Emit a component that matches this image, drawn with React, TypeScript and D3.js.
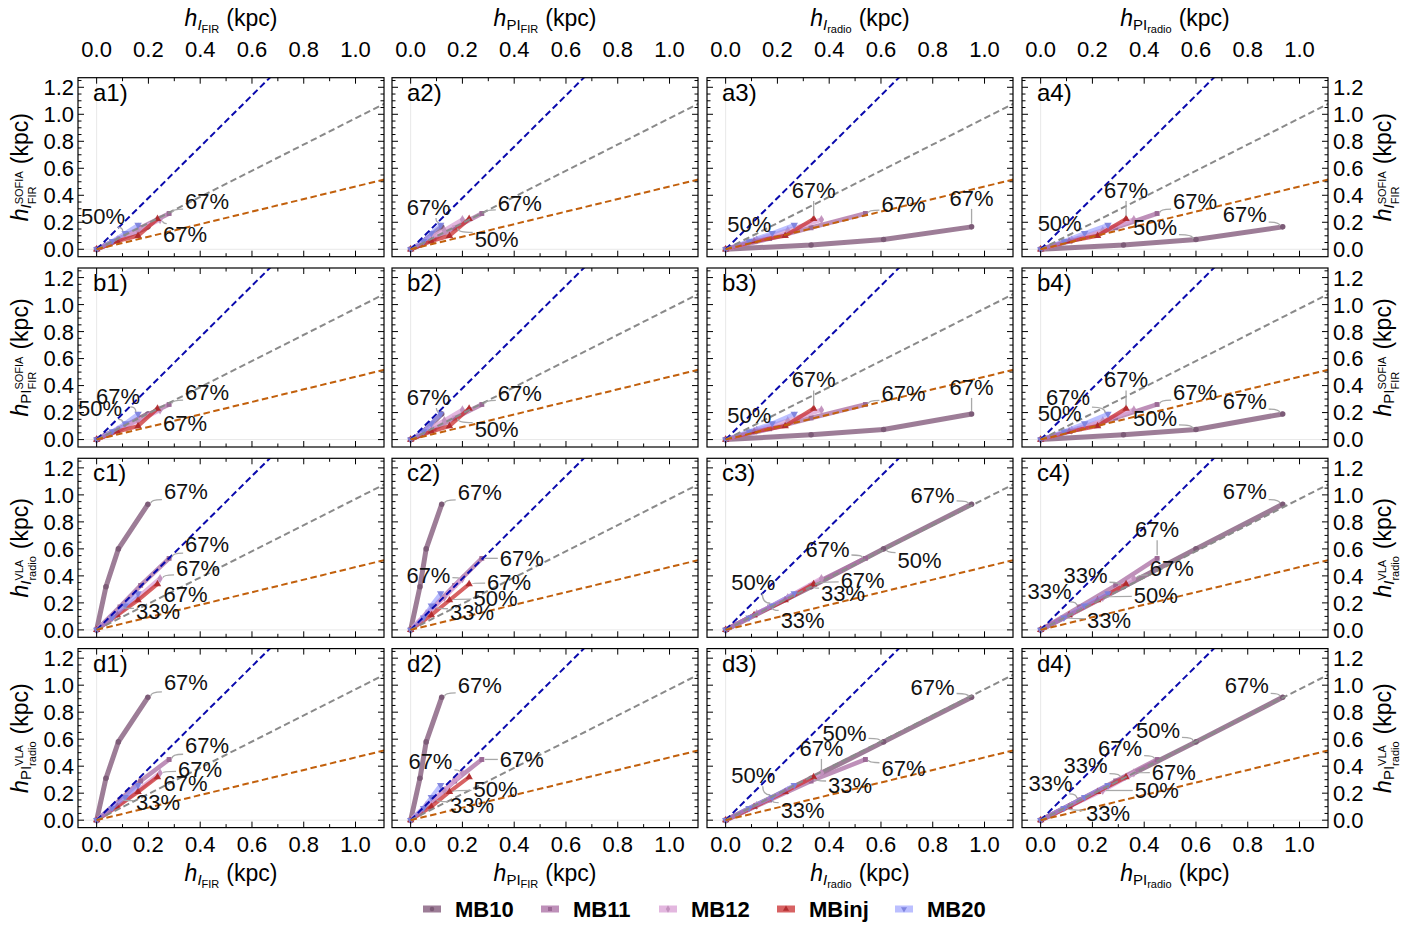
import React from 'react'
import * as d3 from 'd3'

// series and percentile steps (33%, 50%, 67%)
const seriesNames = ['MB10', 'MB11', 'MB12', 'MBinj', 'MB20']
const percentLabels = ['33%', '50%', '67%']

// x quantities (one per column), rows = series, values at 33/50/67%
const hI_FIR = [
  [0.036, 0.084, 0.198],
  [0.09, 0.17, 0.28],
  [0.08, 0.16, 0.245],
  [0.08, 0.16, 0.235],
  [0.06, 0.11, 0.16],
]
const hPI_FIR = [
  [0.036, 0.06, 0.12],
  [0.09, 0.17, 0.275],
  [0.06, 0.13, 0.2],
  [0.08, 0.15, 0.226],
  [0.05, 0.08, 0.116],
]
const hI_radio = [
  [0.33, 0.61, 0.95],
  [0.17, 0.33, 0.54],
  [0.12, 0.24, 0.37],
  [0.11, 0.23, 0.34],
  [0.09, 0.18, 0.265],
]
const hPI_radio = [
  [0.32, 0.6, 0.935],
  [0.15, 0.29, 0.45],
  [0.12, 0.24, 0.36],
  [0.11, 0.22, 0.33],
  [0.09, 0.17, 0.26],
]

// y quantities (one per row)
const hI_FIR_SOFIA = [
  [0.032, 0.072, 0.166],
  [0.08, 0.16, 0.265],
  [0.07, 0.14, 0.22],
  [0.06, 0.1, 0.225],
  [0.06, 0.12, 0.18],
]
const hPI_FIR_SOFIA = [
  [0.035, 0.075, 0.19],
  [0.08, 0.16, 0.26],
  [0.07, 0.14, 0.22],
  [0.06, 0.1, 0.23],
  [0.06, 0.12, 0.19],
]
const hI_radio_VLA = [
  [0.32, 0.6, 0.93],
  [0.17, 0.33, 0.53],
  [0.12, 0.24, 0.38],
  [0.11, 0.22, 0.34],
  [0.09, 0.18, 0.27],
]
const hPI_radio_VLA = [
  [0.31, 0.58, 0.91],
  [0.15, 0.29, 0.45],
  [0.11, 0.22, 0.35],
  [0.1, 0.21, 0.32],
  [0.09, 0.17, 0.26],
]

// dashed reference lines y = slope * x
const refSlopes = [1.9, 0.97, 0.465]

const xTicks = [0, 0.2, 0.4, 0.6, 0.8, 1.0]
const yTicks = [0, 0.2, 0.4, 0.6, 0.8, 1.0, 1.2]

const xQuantities = [hI_FIR, hPI_FIR, hI_radio, hPI_radio]
const yQuantities = [hI_FIR_SOFIA, hPI_FIR_SOFIA, hI_radio_VLA, hPI_radio_VLA]
const rowLetters = ['a', 'b', 'c', 'd']

// callouts: [series, step, label dx, label dy]
const callouts: Record<string, number[][]> = {
  a1: [[4, 1, -22, -17], [1, 2, 38, -12], [2, 2, 25, 15]],
  a2: [[4, 2, -12, -18], [1, 2, 38, -10], [1, 1, 42, 11]],
  a3: [[4, 1, -23, -9], [3, 2, 0, -29], [1, 2, 38, -9], [0, 2, 0, -29]],
  a4: [[4, 1, -25, -10], [3, 2, 0, -29], [1, 2, 38, -12], [0, 1, -41, -12], [0, 2, -38, -13]],
  b1: [[4, 2, -20, -18], [4, 1, -25, -15], [1, 2, 38, -12], [2, 2, 25, 13]],
  b2: [[4, 2, -12, -17], [1, 2, 38, -11], [1, 1, 42, 11]],
  b3: [[4, 1, -23, -8], [3, 2, 0, -29], [1, 2, 38, -11], [0, 2, 0, -27]],
  b4: [[4, 2, -40, -17], [4, 1, -25, -10], [3, 2, 0, -29], [1, 2, 38, -12], [0, 1, -41, -11], [0, 2, -38, -13]],
  c1: [[0, 2, 38, -13], [1, 2, 38, -14], [2, 2, 38, -10], [3, 2, 28, 10], [1, 0, 38, 4]],
  c2: [[0, 2, 38, -12], [2, 2, -34, -3], [1, 2, 40, 0], [3, 2, 40, -2], [3, 1, 46, -2], [1, 0, 38, 5]],
  c3: [[0, 2, -39, -9], [1, 2, -38, -9], [0, 1, 36, 11], [4, 1, -19, -23], [3, 2, 49, -4], [0, 0, 32, 6], [1, 0, 33, 13]],
  c4: [[0, 2, -38, -13], [1, 2, 0, -29], [0, 0, -38, -12], [2, 2, 38, -10], [1, 0, -30, -16], [2, 1, 53, -2], [4, 0, 45, 2]],
  d1: [[0, 2, 38, -15], [1, 2, 38, -14], [2, 2, 40, -4], [3, 2, 28, 6], [1, 0, 38, 2]],
  d2: [[0, 2, 38, -12], [2, 2, -32, -12], [1, 2, 40, 0], [3, 1, 46, -3], [1, 0, 38, 5]],
  d3: [[0, 2, -39, -10], [0, 1, -39, -9], [2, 2, 0, -25], [1, 2, 38, 9], [4, 1, -19, -22], [0, 0, 39, 7], [1, 0, 33, 10]],
  d4: [[0, 2, -36, -12], [0, 1, -38, -12], [1, 2, -37, -11], [0, 0, -38, -13], [2, 2, 40, -1], [1, 0, -29, -17], [2, 1, 54, 0], [4, 0, 44, 5]],
}

// styles
const seriesColors = ['#8c6685', '#ae74a7', '#dca5d7', '#c92d2f', '#8d94ff']
const seriesOpacity = [0.85, 0.8, 0.8, 0.75, 0.6]
const seriesWidth = [5, 4.5, 4.5, 4, 4]
const seriesSymbols = [d3.symbolCircle, d3.symbolSquare, d3.symbolDiamond, d3.symbolTriangle, d3.symbolTriangle]
const refColors = ['#0a0aad', '#8a8a8a', '#c2600c']

const FONT = '"Liberation Sans", Arial, Helvetica, sans-serif'
const FS = 22

const colLeft = [78, 392, 707, 1022]
const rowTop = [77.7, 268, 458.3, 648.6]
const PW = 306
const PH = 179
const xDomain = [-0.072, 1.11]
const yDomain = [-0.055, 1.271]

const xTitleSpecs = [
  { sub1: 'I', italic: true, sub2: 'FIR' },
  { sub1: 'PI', italic: false, sub2: 'FIR' },
  { sub1: 'I', italic: true, sub2: 'radio' },
  { sub1: 'PI', italic: false, sub2: 'radio' },
]
const yTitleSpecs = [
  { sub1: 'I', italic: true, sub2: 'FIR', sup: 'SOFIA' },
  { sub1: 'PI', italic: false, sub2: 'FIR', sup: 'SOFIA' },
  { sub1: 'I', italic: true, sub2: 'radio', sup: 'VLA' },
  { sub1: 'PI', italic: false, sub2: 'radio', sup: 'VLA' },
]

const charW: Record<string, number> = {
  S: 0.667, O: 0.778, F: 0.611, I: 0.278, A: 0.667, R: 0.722, V: 0.667, L: 0.556,
  r: 0.333, a: 0.556, d: 0.556, i: 0.222, o: 0.556,
}
const estW = (s: string, fs: number) => s.split('').reduce((t, c) => t + (charW[c] || 0.56) * fs, 0)

function AxisTitle({ x, y, rotate, spec }: any) {
  const small = 11
  if (spec.sup) {
    const supW = estW(spec.sup, small)
    const subW = estW(spec.sub2, small)
    return (
      <text transform={`translate(${x},${y}) rotate(${rotate})`} textAnchor="middle" fontSize={FS + 1} fontFamily={FONT}>
        <tspan fontStyle="italic">h</tspan>
        <tspan fontSize={15} fontStyle={spec.italic ? 'italic' : 'normal'} dy={3}>{spec.sub1}</tspan>
        <tspan fontSize={small} dy={-8}>{spec.sup}</tspan>
        <tspan fontSize={small} dx={-supW} dy={13}>{spec.sub2}</tspan>
        <tspan dx={Math.max(0, supW - subW) + 7} dy={-8}>(kpc)</tspan>
      </text>
    )
  }
  return (
    <text transform={`translate(${x},${y}) rotate(${rotate})`} textAnchor="middle" fontSize={FS + 1} fontFamily={FONT}>
      <tspan fontStyle="italic">h</tspan>
      <tspan fontSize={15} fontStyle={spec.italic ? 'italic' : 'normal'} dy={4}>{spec.sub1}</tspan>
      <tspan fontSize={small} dy={3}>{spec.sub2}</tspan>
      <tspan dx={7} dy={-7}>(kpc)</tspan>
    </text>
  )
}

function Marker({ s, x, y, size = 24 }: any) {
  const path = d3.symbol().type(seriesSymbols[s]).size(size)()
  const rot = s === 4 ? 180 : 0
  const fill = d3.color(seriesColors[s])!.darker(0.4).formatHex()
  return <path d={path!} transform={`translate(${x},${y}) rotate(${rot})`} fill={fill} opacity={0.9} />
}

function Panel({ r, c }: { r: number; c: number }) {
  const L = colLeft[c]
  const T = rowTop[r]
  const x = d3.scaleLinear().domain(xDomain).range([L, L + PW])
  const y = d3.scaleLinear().domain(yDomain).range([T + PH, T])
  const xq = xQuantities[c]
  const yq = yQuantities[r]
  const key = `${rowLetters[r]}${c + 1}`
  const clipId = `clip-${key}`
  const line = d3.line<[number, number]>().x(d => x(d[0])).y(d => y(d[1]))

  const xMinor = d3.range(0, 11).map(i => i * 0.1).filter(v => Math.abs((v * 10) % 2) > 0.5)
  const yMinor = d3.range(0, 26).map(i => i * 0.05).filter(v => Math.round(v * 100) % 20 !== 0)

  const labels = (callouts[key] || []).map(([s, i, dx, dy], k) => {
    const px = x(xq[s][i])
    const py = y(yq[s][i])
    const cx = px + dx
    const cy = py + dy
    const vx = px - cx
    const vy = py - cy
    const hw = 24
    const hh = 11
    const t = Math.min(vx !== 0 ? hw / Math.abs(vx) : Infinity, vy !== 0 ? hh / Math.abs(vy) : Infinity)
    const ax = cx + vx * t
    const ay = cy + vy * t
    const len = Math.hypot(ax - px, ay - py)
    let leader = null
    if (len > 5 && t < 1) {
      const sx = px + ((ax - px) / len) * 3
      const sy = py + ((ay - py) / len) * 3
      const ctrl = Math.abs(dx) > Math.abs(dy) ? [sx, ay] : [ax, sy]
      leader = <path d={`M${sx},${sy} Q${ctrl[0]},${ctrl[1]} ${ax},${ay}`} fill="none" stroke="#a8a8a8" strokeWidth={1.3} />
    }
    return (
      <g key={k}>
        {leader}
        <text x={cx} y={cy} dy="0.36em" textAnchor="middle" fontSize={FS} fontFamily={FONT} fill="#111">{percentLabels[i]}</text>
      </g>
    )
  })

  return (
    <g>
      <clipPath id={clipId}>
        <rect x={L} y={T} width={PW} height={PH} />
      </clipPath>
      <g clipPath={`url(#${clipId})`}>
        <line x1={x(0)} x2={x(0)} y1={T} y2={T + PH} stroke="#e8e8e8" />
        <line x1={L} x2={L + PW} y1={y(0)} y2={y(0)} stroke="#e8e8e8" />
        {seriesNames.map((name, s) => {
          const pts: [number, number][] = [[0, 0], ...xq[s].map((v, i) => [v, yq[s][i]] as [number, number])]
          return (
            <g key={name}>
              <path d={line(pts)!} fill="none" stroke={seriesColors[s]} strokeOpacity={seriesOpacity[s]} strokeWidth={seriesWidth[s]} strokeLinejoin="round" strokeLinecap="round" />
              {pts.map((p, i) => <Marker key={i} s={s} x={x(p[0])} y={y(p[1])} />)}
            </g>
          )
        })}
        {refSlopes.map((m, k) => (
          <line key={k} x1={x(0)} y1={y(0)} x2={x(1.2)} y2={y(1.2 * m)} stroke={refColors[k]} strokeWidth={2} strokeDasharray="6.5,3.5" />
        ))}
      </g>
      {labels}
      <rect x={L} y={T} width={PW} height={PH} fill="none" stroke="#000" strokeWidth={1.2} />
      {xTicks.map(v => (
        <g key={`xt${v}`}>
          <line x1={x(v)} x2={x(v)} y1={T + PH} y2={T + PH - 6} stroke="#000" />
          <line x1={x(v)} x2={x(v)} y1={T} y2={T + 6} stroke="#000" />
        </g>
      ))}
      {xMinor.map(v => (
        <g key={`xm${v}`}>
          <line x1={x(v)} x2={x(v)} y1={T + PH} y2={T + PH - 3.5} stroke="#000" />
          <line x1={x(v)} x2={x(v)} y1={T} y2={T + 3.5} stroke="#000" />
        </g>
      ))}
      {yTicks.map(v => (
        <g key={`yt${v}`}>
          <line x1={L} x2={L + 6} y1={y(v)} y2={y(v)} stroke="#000" />
          <line x1={L + PW} x2={L + PW - 6} y1={y(v)} y2={y(v)} stroke="#000" />
        </g>
      ))}
      {yMinor.map(v => (
        <g key={`ym${v}`}>
          <line x1={L} x2={L + 3.5} y1={y(v)} y2={y(v)} stroke="#000" />
          <line x1={L + PW} x2={L + PW - 3.5} y1={y(v)} y2={y(v)} stroke="#000" />
        </g>
      ))}
      {r === 0 && xTicks.map(v => (
        <text key={`xl${v}`} x={x(v)} y={T - 21} textAnchor="middle" fontSize={FS} fontFamily={FONT}>{d3.format('.1f')(v)}</text>
      ))}
      {r === 3 && xTicks.map(v => (
        <text key={`xb${v}`} x={x(v)} y={T + PH + 24} textAnchor="middle" fontSize={FS} fontFamily={FONT}>{d3.format('.1f')(v)}</text>
      ))}
      {c === 0 && yTicks.map(v => (
        <text key={`yl${v}`} x={L - 4} y={y(v)} dy="0.36em" textAnchor="end" fontSize={FS} fontFamily={FONT}>{d3.format('.1f')(v)}</text>
      ))}
      {c === 3 && yTicks.map(v => (
        <text key={`yr${v}`} x={L + PW + 5} y={y(v)} dy="0.36em" textAnchor="start" fontSize={FS} fontFamily={FONT}>{d3.format('.1f')(v)}</text>
      ))}
      <text x={L + 15} y={T + 23} fontSize={24} fontFamily={FONT}>{key})</text>
    </g>
  )
}

export default function App() {
  const width = 1422
  const height = 925
  return (
    <div>
      <style>{'body{margin:0;background:#fff}'}</style>
      <svg width={width} height={height} style={{ display: 'block' }}>
        <rect width={width} height={height} fill="#fff" />
        {rowLetters.map((_, r) => [0, 1, 2, 3].map(c => <Panel key={`${r}-${c}`} r={r} c={c} />))}
        {xTitleSpecs.map((spec, c) => (
          <g key={`xt${c}`}>
            <AxisTitle x={colLeft[c] + PW / 2} y={26} rotate={0} spec={spec} />
            <AxisTitle x={colLeft[c] + PW / 2} y={881} rotate={0} spec={spec} />
          </g>
        ))}
        {yTitleSpecs.map((spec, r) => (
          <g key={`yt${r}`}>
            <AxisTitle x={28} y={rowTop[r] + PH / 2} rotate={-90} spec={spec} />
            <AxisTitle x={1391} y={rowTop[r] + PH / 2} rotate={-90} spec={spec} />
          </g>
        ))}
        {seriesNames.map((name, s) => {
          const cx = 432 + s * 118
          const cy = 909
          return (
            <g key={name}>
              <line x1={cx - 9} x2={cx + 9} y1={cy} y2={cy} stroke={seriesColors[s]} strokeOpacity={seriesOpacity[s]} strokeWidth={7} />
              <Marker s={s} x={cx} y={cy} size={16} />
              <text x={cx + 23} y={cy} dy="0.36em" fontSize={FS} fontWeight="bold" fontFamily={FONT}>{name}</text>
            </g>
          )
        })}
      </svg>
    </div>
  )
}
